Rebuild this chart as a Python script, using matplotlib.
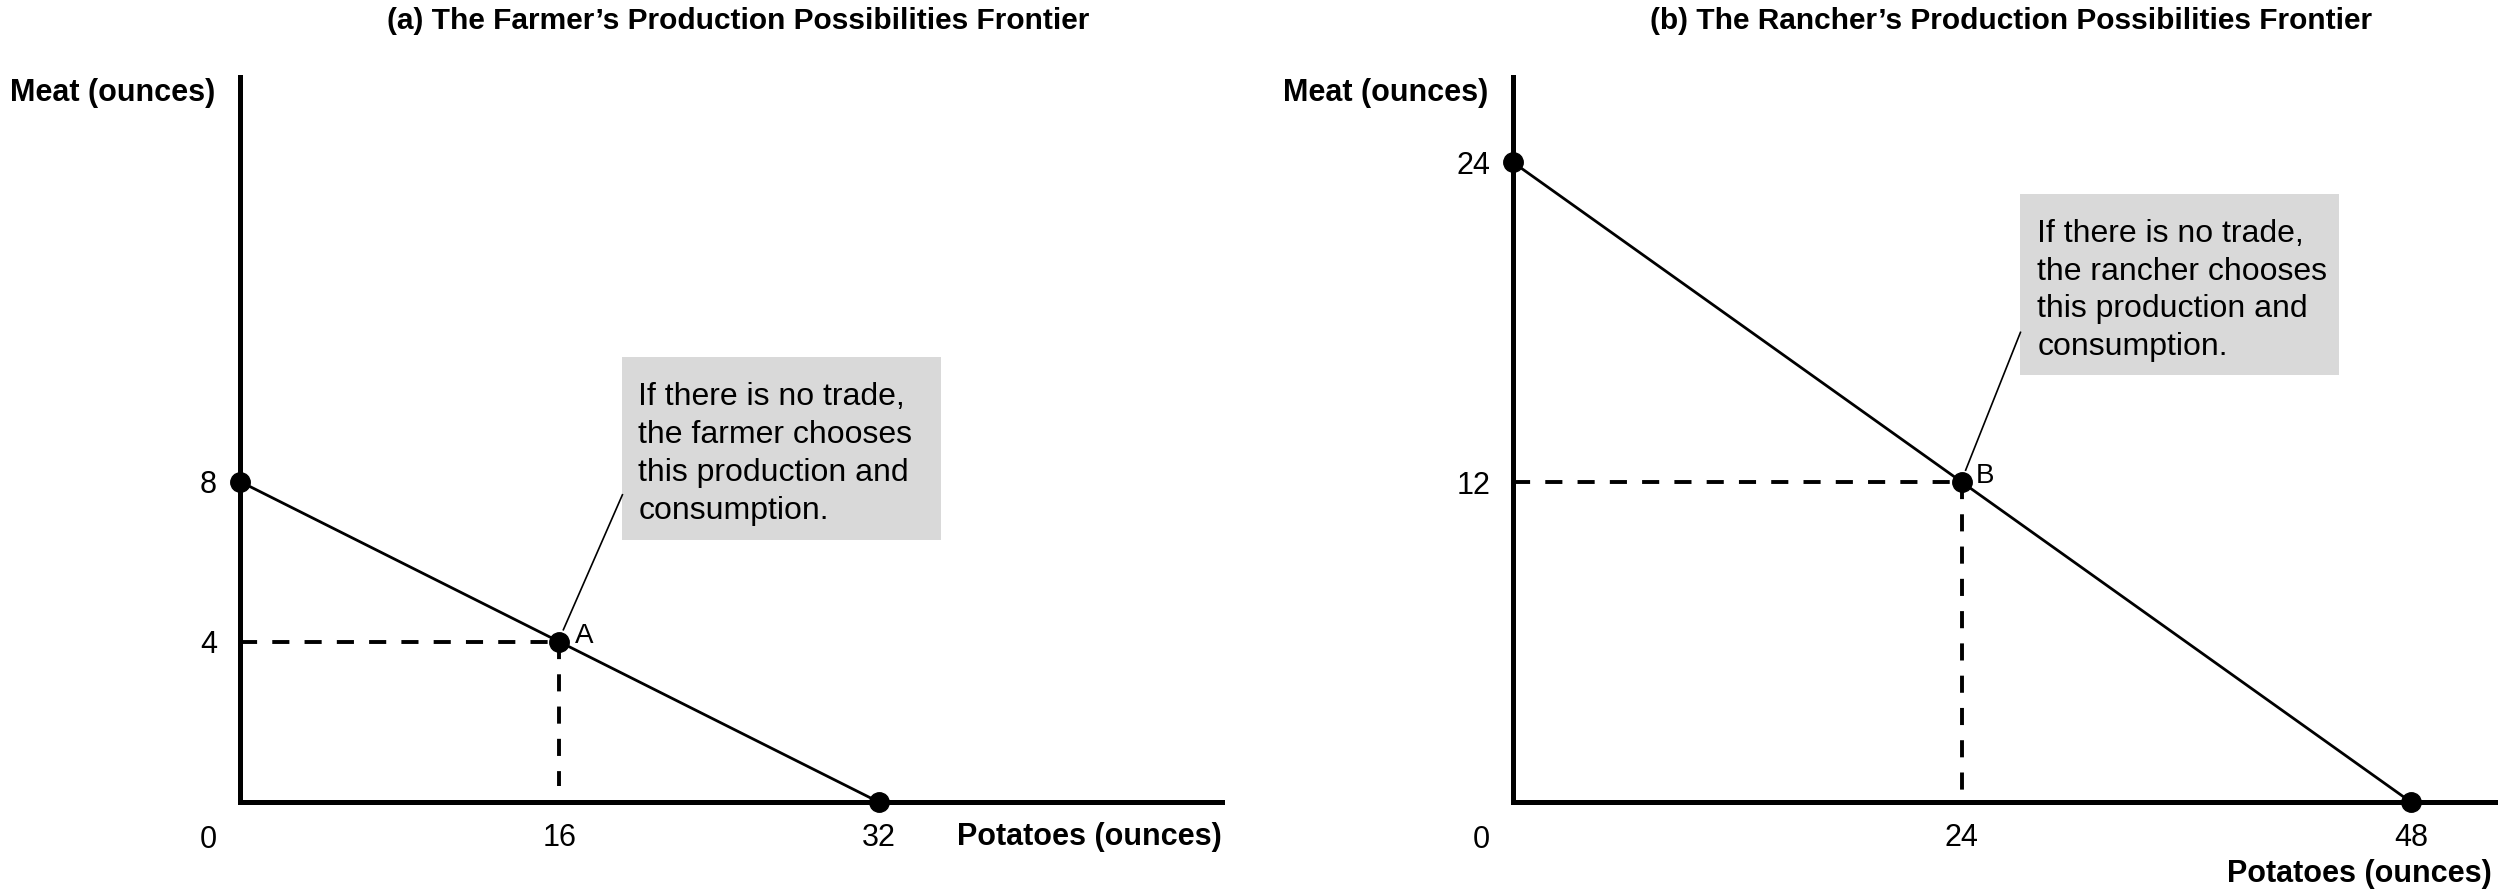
import matplotlib
matplotlib.use("Agg")
import matplotlib.pyplot as plt
from matplotlib.patches import Rectangle

plt.rcParams['font.family'] = ['Liberation Sans', 'DejaVu Sans']

# Datos de las fronteras de posibilidades de produccion
farmer_potatoes = [0, 32]
farmer_meat = [8, 0]
farmer_choice = (16, 4)
farmer_xticks = [16, 32]
farmer_yticks = [4, 8]

rancher_potatoes = [0, 48]
rancher_meat = [24, 0]
rancher_choice = (24, 12)
rancher_xticks = [24, 48]
rancher_yticks = [12, 24]

titles = ["(a) The Farmer\u2019s Production Possibilities Frontier",
          "(b) The Rancher\u2019s Production Possibilities Frontier"]
notes = ["If there is no trade,\nthe farmer chooses\nthis production and\nconsumption.",
         "If there is no trade,\nthe rancher chooses\nthis production and\nconsumption."]
point_names = ["A", "B"]

W, H = 2500, 890
BOX_GRAY = "#d9d9d9"


def draw_panel(ax, xs, ys, choice, xticks, yticks, xlim, ylim,
               box, text_xy, leader, name, name_xy, note):
    ax.set_xlim(*xlim)
    ax.set_ylim(*ylim)
    for s in ["top", "right"]:
        ax.spines[s].set_visible(False)
    for s in ["left", "bottom"]:
        ax.spines[s].set_linewidth(3.6)
        ax.spines[s].set_capstyle("projecting")

    ax.set_xticks(xticks)
    ax.set_yticks(yticks)
    ax.tick_params(axis="both", length=0, labelsize=22)
    ax.tick_params(axis="x", pad=15)
    ax.tick_params(axis="y", pad=16.5)

    # Origen "0" desplazado en la esquina
    ax.annotate("0", xy=(0, 0), xytext=(-23, -27), textcoords="offset points",
                ha="center", va="center", fontsize=22, annotation_clip=False)

    # Frontera
    ax.plot(xs, ys, color="black", lw=2.0, zorder=3)
    ax.plot([xs[0], xs[1]], [ys[0], ys[1]], "o", color="black",
            markersize=14, clip_on=False, zorder=4)

    # Lineas punteadas hasta el punto elegido
    cx, cy = choice
    ax.plot([0, cx], [cy, cy], color="black", lw=2.8,
            linestyle=(0, (4.4, 3.9)), zorder=2)
    ax.plot([cx, cx], [cy, 0.4], color="black", lw=2.8,
            linestyle=(0, (4.4, 3.9)), zorder=2)
    ax.plot([cx], [cy], "o", color="black", markersize=14, zorder=5)
    ax.text(name_xy[0], name_xy[1], name, fontsize=20, ha="left", va="baseline")

    # Caja de nota (el texto se alinea por la linea base de la ultima linea)
    x0, y0, x1, y1 = box
    ax.add_patch(Rectangle((x0, y1), x1 - x0, y0 - y1, facecolor=BOX_GRAY,
                           edgecolor="none", zorder=1))
    ax.text(text_xy[0], text_xy[1], note, fontsize=23, ha="left", va="baseline",
            linespacing=1.34, zorder=6)
    ax.plot([leader[0], leader[2]], [leader[1], leader[3]], color="black",
            lw=1.2, zorder=3)


fig = plt.figure(figsize=(W / 100, H / 100), dpi=100)
ax1 = fig.add_axes([240 / W, (H - 802) / H, (1222 - 240) / W, (802 - 77) / H])
ax2 = fig.add_axes([1513 / W, (H - 802) / H, (2495 - 1513) / W, (802 - 77) / H])

draw_panel(ax1, farmer_potatoes, farmer_meat, farmer_choice,
           farmer_xticks, farmer_yticks, (0, 49.2), (0, 18.1),
           box=(19.16, 11.12, 35.1, 6.55), text_xy=(19.96, 7.07),
           leader=(19.16, 7.67, 16.2, 4.3), name=point_names[0],
           name_xy=(16.8, 3.97), note=notes[0])

draw_panel(ax2, rancher_potatoes, rancher_meat, rancher_choice,
           rancher_xticks, rancher_yticks, (0, 52.5), (0, 27.2),
           box=(27.13, 22.8, 44.14, 16.01), text_xy=(28.04, 16.76),
           leader=(27.13, 17.62, 24.2, 12.45), name=point_names[1],
           name_xy=(24.72, 11.96), note=notes[1])

# Titulos y etiquetas de ejes
fig.text(738 / W, 1 - 21 / H, titles[0], ha="center", va="center",
         fontsize=21.5, fontweight="bold")
fig.text(2011 / W, 1 - 21 / H, titles[1], ha="center", va="center",
         fontsize=21.5, fontweight="bold")

fig.text(215 / W, 1 - 93 / H, "Meat (ounces)", ha="right", va="center",
         fontsize=22, fontweight="bold")
fig.text(1488 / W, 1 - 93 / H, "Meat (ounces)", ha="right", va="center",
         fontsize=22, fontweight="bold")
fig.text(1222 / W, 1 - 837 / H, "Potatoes (ounces)", ha="right", va="center",
         fontsize=22, fontweight="bold")
fig.text(2492 / W, 1 - 874 / H, "Potatoes (ounces)", ha="right", va="center",
         fontsize=22, fontweight="bold")

fig.savefig("out.png", dpi=100, facecolor="white")
